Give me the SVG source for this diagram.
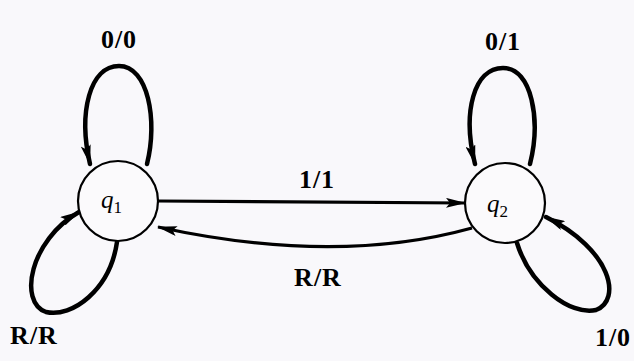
<svg xmlns="http://www.w3.org/2000/svg" width="634" height="361" viewBox="0 0 634 361">
<style>
.bg{fill:#f9f8fb}
.node{fill:#fbfafc;stroke:#000;stroke-width:2.2}
.loop{fill:none;stroke:#000;stroke-width:4.5;stroke-linecap:round}
.edge{fill:none;stroke:#000;stroke-width:3.2}
.lbl{font-family:"Liberation Serif","DejaVu Serif",serif;font-weight:bold;font-size:26px;text-anchor:middle;fill:#000;letter-spacing:1px}
.st{font-family:"Liberation Serif","DejaVu Serif",serif;font-style:italic;font-size:25px;fill:#000}
.sub{font-style:normal;font-size:17px}
</style>
<defs>
<marker id="ah" viewBox="0 0 20 10" refX="19" refY="5" markerWidth="20" markerHeight="10" markerUnits="userSpaceOnUse" orient="auto">
<path d="M0,0 L20,5 L0,10 L4,5 Z" fill="#000"/>
</marker>
</defs>
<rect class="bg" x="0" y="0" width="634" height="361"/>
<g id="connectors">
<path class="loop" d="M147,164 C158,120 148,66 119,66 C90,66 78,112 90,164" marker-end="url(#ah)"/>
<path class="loop" d="M530,164 C541,120 532,68 503,68 C474,68 462,112 475,164" marker-end="url(#ah)"/>
<path class="loop" d="M117,242 C110,290 72,318 46,312 C18,302 30,240 79,212" marker-end="url(#ah)"/>
<path class="loop" d="M517,243 C530,285 570,316 596,310 C622,300 612,250 546,217" marker-end="url(#ah)"/>
<path class="edge" d="M158,201 L465,203" marker-end="url(#ah)"/>
<path class="edge" d="M472,228 C400,248 300,258 158,227" marker-end="url(#ah)"/>
</g>
<g id="q1">
<circle class="node" cx="118" cy="201" r="40"/>
<text class="st" x="101" y="208">q<tspan class="sub" dy="5">1</tspan></text>
</g>
<g id="q2">
<circle class="node" cx="505" cy="203" r="40"/>
<text class="st" x="487" y="212">q<tspan class="sub" dy="5">2</tspan></text>
</g>
<g id="labels">
<text class="lbl" x="119" y="48">0/0</text>
<text class="lbl" x="503" y="50">0/1</text>
<text class="lbl" x="317" y="188">1/1</text>
<text class="lbl" x="318" y="286">R/R</text>
<text class="lbl" x="34" y="344">R/R</text>
<text class="lbl" x="613" y="346">1/0</text>
</g>
</svg>
